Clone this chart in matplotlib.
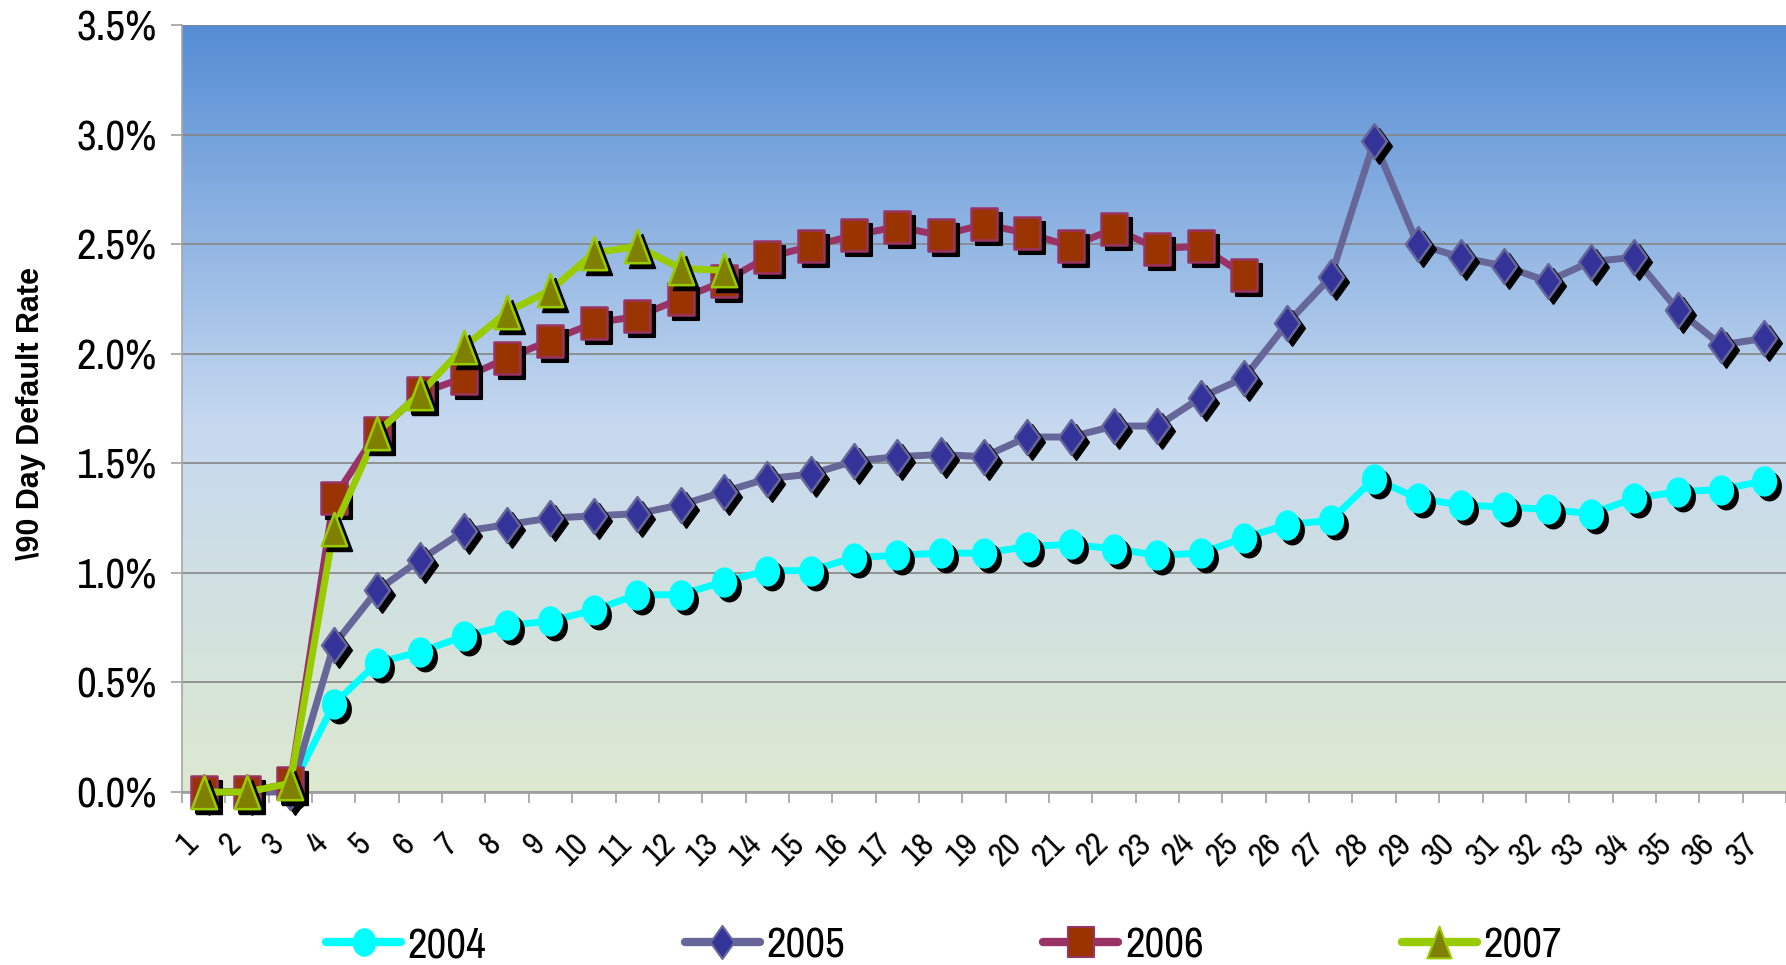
import numpy as np
import matplotlib
matplotlib.use("Agg")
import matplotlib.pyplot as plt
from matplotlib.path import Path
from matplotlib.lines import Line2D
from matplotlib.colors import LinearSegmentedColormap
from matplotlib import font_manager
import matplotlib.transforms as mtransforms

# ---- data: 90-day default rate (%) by month on book, per vintage ----
months = list(range(1, 38))
month_labels = [str(m) for m in months]

rate_2004 = [0.00, 0.00, 0.01, 0.40, 0.59, 0.64, 0.71, 0.76, 0.78, 0.83,
             0.90, 0.90, 0.96, 1.01, 1.01, 1.07, 1.08, 1.09, 1.09, 1.12,
             1.13, 1.11, 1.08, 1.09, 1.16, 1.22, 1.24, 1.43, 1.34, 1.31,
             1.30, 1.29, 1.27, 1.34, 1.37, 1.38, 1.42]
rate_2005 = [0.00, 0.00, 0.00, 0.67, 0.92, 1.06, 1.19, 1.22, 1.25, 1.26,
             1.27, 1.31, 1.37, 1.43, 1.45, 1.51, 1.53, 1.54, 1.53, 1.62,
             1.62, 1.67, 1.67, 1.80, 1.89, 2.14, 2.35, 2.97, 2.50, 2.44,
             2.40, 2.33, 2.42, 2.44, 2.20, 2.04, 2.07]
rate_2006 = [0.00, 0.00, 0.04, 1.34, 1.64, 1.82, 1.89, 1.98, 2.06, 2.14,
             2.17, 2.25, 2.33, 2.44, 2.49, 2.54, 2.58, 2.54, 2.59, 2.55,
             2.49, 2.57, 2.48, 2.49, 2.36]
rate_2007 = [0.00, 0.00, 0.04, 1.20, 1.64, 1.82, 2.03, 2.19, 2.29, 2.46,
             2.49, 2.39, 2.38]

series_names = ["2004", "2005", "2006", "2007"]
y_ticks = [0.0, 0.5, 1.0, 1.5, 2.0, 2.5, 3.0, 3.5]

# ---- fonts: a narrow sans for ticks and legend ----
available = {f.name for f in font_manager.fontManager.ttflist}
narrow = "Liberation Sans"
for cand in ("Liberation Sans Narrow", "Arial Narrow", "Archivo Narrow",
             "Roboto Condensed"):
    if cand in available:
        narrow = cand
        break
plt.rcParams["font.family"] = [narrow, "DejaVu Sans"]


def tall_marker(kind, ratio):
    """Marker path that is taller than wide."""
    if kind == "s":
        verts = [(-ratio, -1), (ratio, -1), (ratio, 1), (-ratio, 1), (-ratio, -1)]
        return Path(verts, closed=True)
    if kind == "D":
        verts = [(0, -1), (ratio, 0), (0, 1), (-ratio, 0), (0, -1)]
        return Path(verts, closed=True)
    if kind == "^":
        verts = [(-ratio, -1), (ratio, -1), (0, 1), (-ratio, -1)]
        return Path(verts, closed=True)
    if kind == "o":
        t = np.linspace(0, 2 * np.pi, 60)
        verts = np.column_stack([ratio * np.cos(t), np.sin(t)])
        return Path(verts, closed=True)


styles = {
    "2004": dict(line="#00FFFF", face="#00FFFF", edge="#00FFFF",
                 marker=tall_marker("o", 0.82), ms=20),
    "2005": dict(line="#666699", face="#333399", edge="#666699",
                 marker=tall_marker("D", 0.72), ms=25),
    "2006": dict(line="#993366", face="#993300", edge="#993366",
                 marker=tall_marker("s", 0.84), ms=23),
    "2007": dict(line="#99CC00", face="#808000", edge="#99CC00",
                 marker=tall_marker("^", 0.76), ms=24),
}
data = {"2004": rate_2004, "2005": rate_2005, "2006": rate_2006, "2007": rate_2007}

W, H, DPI = 1786, 965, 100
fig = plt.figure(figsize=(W / DPI, H / DPI), dpi=DPI, facecolor="white")
ax = fig.add_axes([182 / W, 1 - 792 / H, (W - 182) / W, (792 - 25) / H])

# gradient plot area
grad = LinearSegmentedColormap.from_list(
    "bg", [(0.0, (85 / 255, 141 / 255, 212 / 255)),
           (0.52, (198 / 255, 217 / 255, 240 / 255)),
           (1.0, (221 / 255, 233 / 255, 208 / 255))])
ax.imshow(np.linspace(0, 1, 256).reshape(-1, 1), cmap=grad, aspect="auto",
          extent=[0, 1, 0, 1], transform=ax.transAxes, zorder=0,
          interpolation="bicubic")

ax.set_xlim(0.5, len(months) + 0.5)
ax.set_ylim(0, 3.5)

shadow_tf = mtransforms.offset_copy(ax.transData, fig=fig, x=5, y=-5, units="dots")

handles = []
for i, name in enumerate(series_names):
    st = styles[name]
    vals = data[name]
    x = months[:len(vals)]
    z = 3 + i
    ax.plot(x, vals, color=st["line"], lw=5, solid_joinstyle="round",
            solid_capstyle="round", zorder=z, clip_on=False)
    ax.plot(x, vals, linestyle="none", marker=st["marker"], ms=st["ms"],
            mfc="black", mec="black", mew=1.5, transform=shadow_tf,
            zorder=z + 0.1, clip_on=False)
    ax.plot(x, vals, linestyle="none", marker=st["marker"], ms=st["ms"],
            mfc=st["face"], mec=st["edge"], mew=1.8, zorder=z + 0.2,
            clip_on=False)
    handles.append(Line2D([], [], color=st["line"], lw=6, marker=st["marker"],
                          ms=st["ms"] * 0.95, mfc=st["face"], mec=st["edge"],
                          mew=1.5, solid_capstyle="round"))

# axes styling
for side in ("top", "right"):
    ax.spines[side].set_visible(False)
ax.spines["left"].set_color("#A6A6A6")
ax.spines["left"].set_linewidth(1.2)
ax.spines["bottom"].set_color("#A0A0A0")
ax.spines["bottom"].set_linewidth(2)
ax.spines["bottom"].set_zorder(2.5)

ax.set_yticks(y_ticks)
ax.set_yticklabels([f"{v:.1f}%" for v in y_ticks], fontsize=31)
ax.tick_params(axis="y", length=8, width=1.2, color="#A0A0A0", pad=10)
ax.yaxis.grid(True, color="#868686", lw=1.2, zorder=1)

ax.set_xticks(months)
ax.set_xticklabels(month_labels, fontsize=24, rotation=45, ha="right", va="top")
ax.tick_params(axis="x", which="major", length=0, pad=26)
ax.set_xticks(np.arange(0.5, len(months) + 1, 1.0), minor=True)
ax.tick_params(axis="x", which="minor", length=8, width=1.2, color="#A0A0A0")

fig.text(31 / W, 1 - 413 / H, "\\90 Day Default Rate", rotation=90,
         ha="center", va="center", fontsize=22, fontweight="bold",
         family=["Liberation Sans", "DejaVu Sans"])

fig.legend(handles, series_names, loc="center", ncol=4,
           bbox_to_anchor=(944 / W, 1 - 945 / H), frameon=False,
           fontsize=31, handlelength=1.75, handletextpad=0.15,
           columnspacing=4.6, numpoints=1, borderaxespad=0, borderpad=0)

fig.savefig("out.png", dpi=DPI, facecolor="white")
